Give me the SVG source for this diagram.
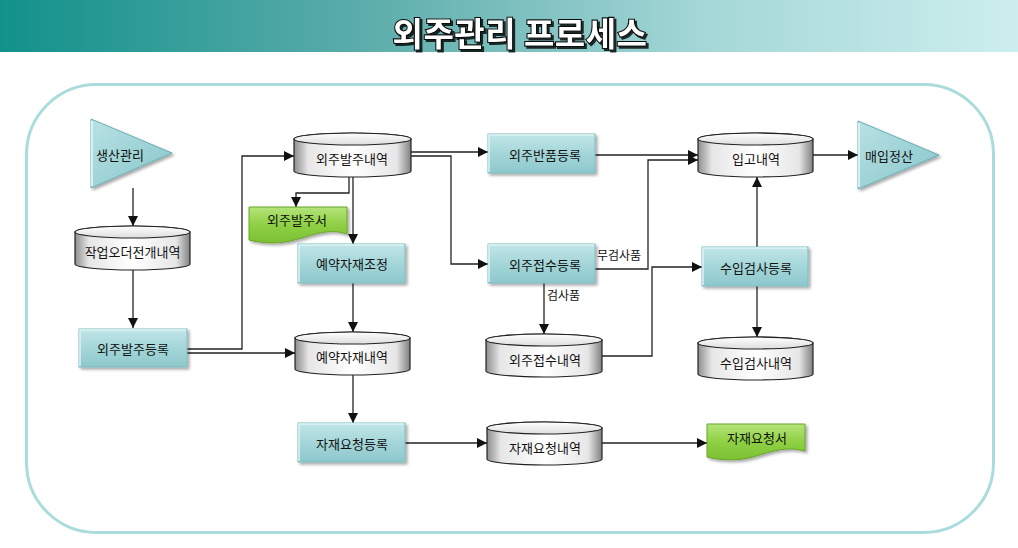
<svg xmlns="http://www.w3.org/2000/svg" width="1018" height="548" viewBox="0 0 1018 548">
<defs>
<linearGradient id="bar" x1="0" y1="0" x2="1" y2="0">
<stop offset="0" stop-color="#12918b"/>
<stop offset="0.35" stop-color="#5aacaa"/>
<stop offset="0.7" stop-color="#a6d8d8"/>
<stop offset="1" stop-color="#cdeeee"/>
</linearGradient>
<linearGradient id="cyl" x1="0" y1="0" x2="1" y2="0">
<stop offset="0" stop-color="#8e8e8e"/>
<stop offset="0.12" stop-color="#e6e6e6"/>
<stop offset="0.5" stop-color="#ffffff"/>
<stop offset="0.88" stop-color="#e6e6e6"/>
<stop offset="1" stop-color="#808080"/>
</linearGradient>
<linearGradient id="cyltop" x1="0" y1="0" x2="0" y2="1">
<stop offset="0" stop-color="#ffffff"/>
<stop offset="1" stop-color="#dddddd"/>
</linearGradient>
<linearGradient id="boxg" x1="0" y1="0" x2="0" y2="1">
<stop offset="0" stop-color="#c2e6e8"/>
<stop offset="0.5" stop-color="#a4d6d9"/>
<stop offset="1" stop-color="#8dc8cc"/>
</linearGradient>
<linearGradient id="docg" x1="0" y1="0" x2="0" y2="1">
<stop offset="0" stop-color="#b4e47a"/>
<stop offset="0.5" stop-color="#8fd044"/>
<stop offset="1" stop-color="#7cc033"/>
</linearGradient>
<linearGradient id="trig" x1="0" y1="0" x2="1" y2="1">
<stop offset="0" stop-color="#b9e2e4"/>
<stop offset="1" stop-color="#86c5ca"/>
</linearGradient>
<filter id="sh" x="-10%" y="-10%" width="130%" height="140%">
<feDropShadow dx="2" dy="2" stdDeviation="1.5" flood-color="#000" flood-opacity="0.35"/>
</filter>
<filter id="tsh" x="-5%" y="-20%" width="115%" height="150%">
<feDropShadow dx="2" dy="2" stdDeviation="0.6" flood-color="#000" flood-opacity="0.8"/>
</filter>
<marker id="arr" viewBox="0 0 10 10" refX="10" refY="5" markerWidth="10" markerHeight="10" markerUnits="userSpaceOnUse" orient="auto">
<path d="M0,0 L10,5 L0,10 Z" fill="#111"/>
</marker>
<style>
.t{font-family:"Noto Sans CJK KR","Noto Sans",sans-serif;font-size:13px;fill:#111;text-anchor:middle;dominant-baseline:central}
.lbl{font-family:"Noto Sans CJK KR","Noto Sans",sans-serif;font-size:12px;fill:#111}
.cb{fill:url(#cyl);stroke:#222;stroke-width:1.2}
.ct{fill:url(#cyltop);stroke:#222;stroke-width:1.2}
.box{fill:url(#boxg);stroke:#7cbcc1;stroke-width:1;filter:url(#sh)}
.bev{fill:none;stroke:#dff3f4;stroke-width:1.5}
.doc{fill:url(#docg);stroke:#6aa52b;stroke-width:1;filter:url(#sh)}
.tri{fill:url(#trig);stroke:#6aaeb3;stroke-width:1;filter:url(#sh)}
.c{fill:none;stroke:#222;stroke-width:1.3}
.ca{fill:none;stroke:#222;stroke-width:1.3;marker-end:url(#arr)}
</style>
</defs>

<rect x="0" y="0" width="1018" height="52" fill="url(#bar)"/>
<text x="520" y="46" font-family="'Noto Sans CJK KR','Noto Sans',sans-serif" font-size="33" font-weight="bold" letter-spacing="0.5" fill="#ffffff" stroke="#111" stroke-width="2.2" paint-order="stroke" text-anchor="middle" filter="url(#tsh)">외주관리 프로세스</text>

<rect x="26.5" y="84.5" width="967" height="448" rx="70" ry="70" fill="none" stroke="#abdcdc" stroke-width="3"/>

<g id="connectors">
<path class="ca" d="M133,188 V226"/>
<path class="ca" d="M133,270 V328"/>
<path class="ca" d="M187,349 H242 V156 H294"/>
<path class="ca" d="M187,353 H295"/>
<path class="ca" d="M349,177 V193 H296 V207"/>
<path class="ca" d="M353,177 V244"/>
<path class="ca" d="M353,283 V332"/>
<path class="ca" d="M353,375 V423"/>
<path class="ca" d="M405,443 H487"/>
<path class="ca" d="M602,443 H707"/>
<path class="ca" d="M411,152 H488"/>
<path class="ca" d="M411,156 H451 V264 H488"/>
<path class="ca" d="M595,155 H698"/>
<path class="ca" d="M595,269 H648 V160 H698"/>
<path class="ca" d="M544,283 V334"/>
<path class="ca" d="M602,356 H652 V267 H702"/>
<path class="ca" d="M757,247 V177"/>
<path class="ca" d="M757,286 V337"/>
<path class="ca" d="M813,155 H858"/>
<text class="lbl" x="597" y="260">무검사품</text>
<text class="lbl" x="547" y="300">검사품</text>
</g>

<g id="n-saengsan">
<polygon class="tri" points="91,119 172,153 91,188"/>
<polyline points="92,121 92,186" fill="none" stroke="#d8f0f1" stroke-width="2"/>
<text class="t" x="120" y="154">생산관리</text>
</g>

<g id="n-jakup">
<path class="cb" d="M75,232 A57.5,6 0 0 1 190,232 V264 A57.5,6 0 0 1 75,264 Z"/>
<ellipse class="ct" cx="132.5" cy="232" rx="57.5" ry="6"/>
<text class="t" x="132.5" y="251">작업오더전개내역</text>
</g>

<g id="n-balju-reg">
<rect class="box" x="79" y="329" width="108" height="38"/>
<path class="bev" d="M80,366 V330 H186"/>
<text class="t" x="133" y="348">외주발주등록</text>
</g>

<g id="n-balju-list">
<path class="cb" d="M294,139 A58.5,6 0 0 1 411,139 V171 A58.5,6 0 0 1 294,171 Z"/>
<ellipse class="ct" cx="352.5" cy="139" rx="58.5" ry="6"/>
<text class="t" x="352" y="158">외주발주내역</text>
</g>

<g id="n-balju-doc">
<path class="doc" d="M249,207 H347 V234 C330,228 315,234 298,239 C282,244 265,244 249,240 Z"/>
<text class="t" x="297" y="219">외주발주서</text>
</g>

<g id="n-yeyak-adj">
<rect class="box" x="298" y="244" width="107" height="39"/>
<path class="bev" d="M299,282 V245 H404"/>
<text class="t" x="352" y="263">예약자재조정</text>
</g>

<g id="n-yeyak-list">
<path class="cb" d="M295,338 A57.5,6 0 0 1 410,338 V369 A57.5,6 0 0 1 295,369 Z"/>
<ellipse class="ct" cx="352.5" cy="338" rx="57.5" ry="6"/>
<text class="t" x="352" y="356">예약자재내역</text>
</g>

<g id="n-jajae-reg">
<rect class="box" x="298" y="423" width="107" height="39"/>
<path class="bev" d="M299,461 V424 H404"/>
<text class="t" x="352" y="443">자재요청등록</text>
</g>

<g id="n-jajae-list">
<path class="cb" d="M487,428 A57.5,6 0 0 1 602,428 V459 A57.5,6 0 0 1 487,459 Z"/>
<ellipse class="ct" cx="544.5" cy="428" rx="57.5" ry="6"/>
<text class="t" x="545" y="447">자재요청내역</text>
</g>

<g id="n-jajae-doc">
<path class="doc" d="M707,424 H805 V451 C788,446 772,451 756,456 C740,461 723,461 707,457 Z"/>
<text class="t" x="757" y="437">자재요청서</text>
</g>

<g id="n-banpum">
<rect class="box" x="488" y="134" width="107" height="39"/>
<path class="bev" d="M489,172 V135 H594"/>
<text class="t" x="545" y="154">외주반품등록</text>
</g>

<g id="n-jeopsu-reg">
<rect class="box" x="488" y="244" width="107" height="39"/>
<path class="bev" d="M489,282 V245 H594"/>
<text class="t" x="545" y="264">외주접수등록</text>
</g>

<g id="n-jeopsu-list">
<path class="cb" d="M486,340 A58,6 0 0 1 602,340 V371 A58,6 0 0 1 486,371 Z"/>
<ellipse class="ct" cx="544" cy="340" rx="58" ry="6"/>
<text class="t" x="545" y="359">외주접수내역</text>
</g>

<g id="n-ipgo">
<path class="cb" d="M698,139 A57.5,6 0 0 1 813,139 V171 A57.5,6 0 0 1 698,171 Z"/>
<ellipse class="ct" cx="755.5" cy="139" rx="57.5" ry="6"/>
<text class="t" x="756" y="158">입고내역</text>
</g>

<g id="n-insp-reg">
<rect class="box" x="702" y="247" width="106" height="39"/>
<path class="bev" d="M703,285 V248 H807"/>
<text class="t" x="756" y="267">수입검사등록</text>
</g>

<g id="n-insp-list">
<path class="cb" d="M698,343 A57.5,6 0 0 1 813,343 V374 A57.5,6 0 0 1 698,374 Z"/>
<ellipse class="ct" cx="755.5" cy="343" rx="57.5" ry="6"/>
<text class="t" x="756" y="362">수입검사내역</text>
</g>

<g id="n-maeip">
<polygon class="tri" points="858,121 939,155 858,189"/>
<polyline points="859,123 859,187" fill="none" stroke="#d8f0f1" stroke-width="2"/>
<text class="t" x="889" y="155">매입정산</text>
</g>
</svg>
